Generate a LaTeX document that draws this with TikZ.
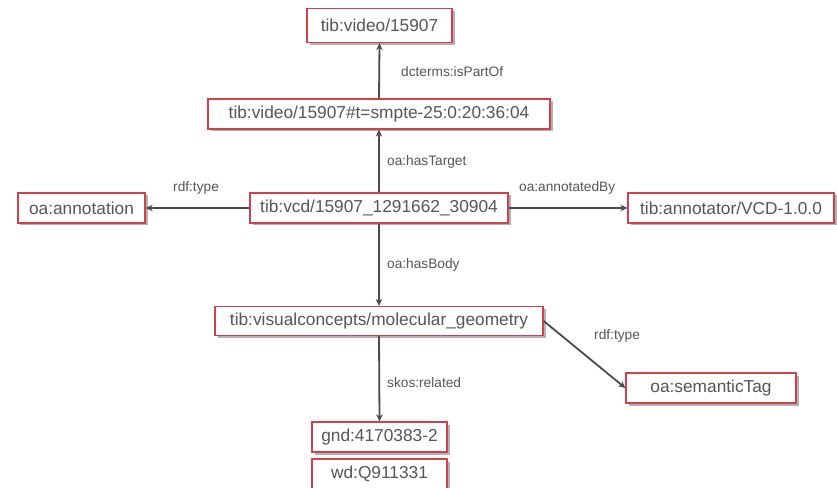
\documentclass[tikz,border=0pt]{standalone}
\usepackage{fontspec}
\setmainfont{Liberation Sans}
\usetikzlibrary{shadows,arrows.meta}
\definecolor{boxred}{HTML}{D2404E}
\definecolor{txtgray}{HTML}{555555}
\definecolor{arrgray}{HTML}{4A4A4A}
\tikzset{
  res/.style={draw=boxred, line width=1.3bp, fill=white, inner sep=0pt,
    text=txtgray, font=\fontsize{17.3bp}{20bp}\selectfont,
    drop shadow={shadow xshift=2.5bp, shadow yshift=-2.5bp, fill=black, opacity=0.3}},
  prop/.style={anchor=west, inner sep=0pt, text=txtgray, font=\fontsize{13.7bp}{16bp}\selectfont},
  rel/.style={draw=arrgray, line width=1.8bp, -{Stealth[length=7bp,width=6.5bp]}}
}
\begin{document}
\begin{tikzpicture}[x=1bp,y=-1bp]
\clip (0,0) rectangle (837,488);
\fill[white] (0,0) rectangle (837,488);
\node[res, minimum width=145bp, minimum height=34bp] (video) at (379.5,25.5) {tib:video/15907};
\node[res, minimum width=342bp, minimum height=30bp] (frag) at (379,114) {tib:video/15907\#t=smpte-25:0:20:36:04};
\node[res, minimum width=127bp, minimum height=30bp] (ann) at (81.5,208) {oa:annotation};
\node[res, minimum width=258bp, minimum height=30bp] (vcd) at (379,208) {tib:vcd/15907\_1291662\_30904};
\node[res, minimum width=206bp, minimum height=30bp] (tool) at (731,208) {tib:annotator/VCD-1.0.0};
\node[res, minimum width=328bp, minimum height=29bp] (geo) at (379,321) {tib:visualconcepts/molecular\_geometry};
\node[res, minimum width=170bp, minimum height=30bp] (sem) at (711,388) {oa:semanticTag};
\node[res, minimum width=135bp, minimum height=30bp] (gnd) at (379.5,437) {gnd:4170383-2};
\node[res, minimum width=135bp, minimum height=30bp] (wd) at (379.5,474) {wd:Q911331};

\draw[rel] (frag.north) -- (video.south);
\draw[rel] (vcd.north) -- (frag.south);
\draw[rel] (vcd.west) -- (ann.east);
\draw[rel] (vcd.east) -- (tool.west);
\draw[rel] (vcd.south) -- (geo.north);
\draw[rel] (geo.south) -- (gnd.north);
\draw[rel] (geo.east) -- (sem.west);

\node[prop] (l1) at (401,72) {dcterms:isPartOf};
\node[prop] (l2) at (387,162) {oa:hasTarget};
\node[prop] (l3) at (173,188) {rdf:type};
\node[prop] (l4) at (519,188) {oa:annotatedBy};
\node[prop] (l5) at (387,265) {oa:hasBody};
\node[prop] (l6) at (594,336) {rdf:type};
\node[prop] (l7) at (387,383) {skos:related};
\end{tikzpicture}
\end{document}
